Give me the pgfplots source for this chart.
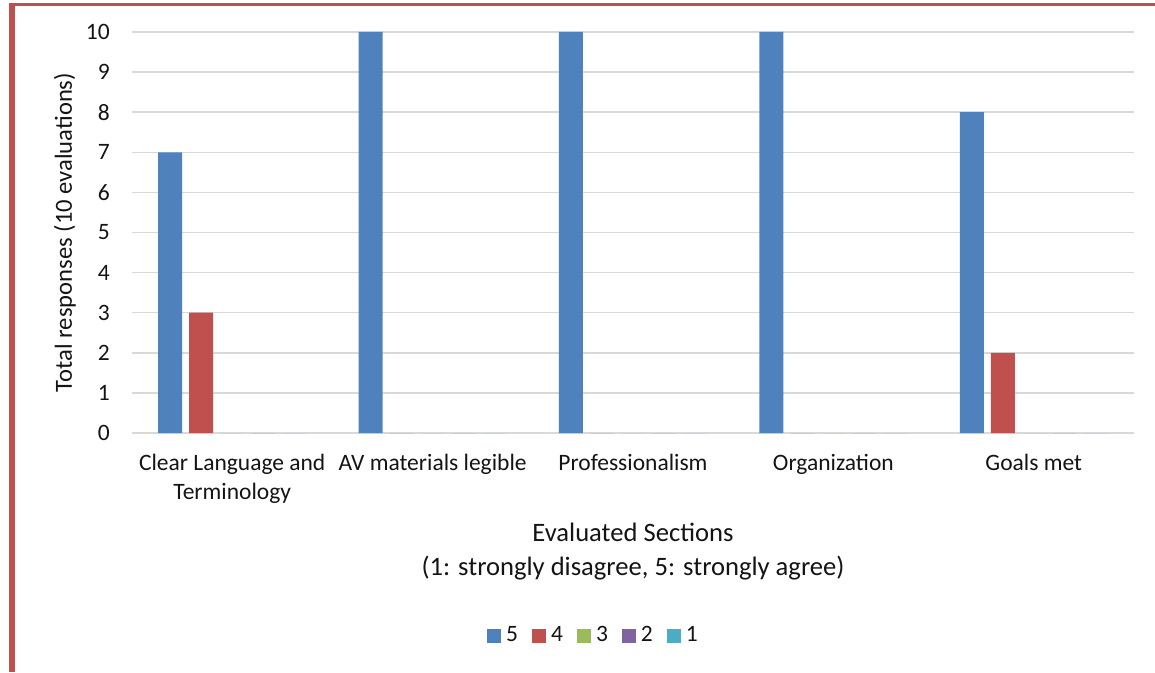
\documentclass[border=0pt]{standalone}
\usepackage{pgfplots}
\pgfplotsset{compat=1.18}
\usepackage{fontspec}
\setmainfont{Carlito}
\definecolor{c5}{HTML}{4F81BD}
\definecolor{c4}{HTML}{C0504D}
\definecolor{c3}{HTML}{9BBB59}
\definecolor{c2}{HTML}{8064A2}
\definecolor{c1}{HTML}{4BACC6}
\definecolor{gridc}{RGB}{217,217,217}
\definecolor{txt}{RGB}{20,20,20}
\newcommand{\bigf}{\fontsize{23.5}{29}\selectfont}
\begin{document}
\bigf
\begin{tikzpicture}
\path[use as bounding box] (-132pt,-239pt) rectangle (1023pt,433pt);
\begin{axis}[
  at={(0,0)}, anchor=south west,
  scale only axis, width=1002pt, height=401pt,
  ybar=7pt, bar width=24pt,
  xmin=-0.5, xmax=4.5, ymin=0, ymax=10,
  xtick=data,
  xticklabels={{Clear Language and\\Terminology},{AV materials legible},{Professionalism},{Organization},{Goals met}},
  ytick={0,1,...,10},
  /pgf/number format/assume math mode=true,
  major tick length=0pt,
  axis x line=bottom, axis y line=left,
  y axis line style={draw=none},
  x axis line style={draw=gridc, line width=1.5pt, -},
  ymajorgrids, grid style={draw=gridc, line width=1.5pt},
  font=\bigf,
  tick label style={text=txt, font=\bigf},
  yticklabel style={inner sep=0pt, xshift=-22pt},
  xticklabel style={align=center, inner sep=0pt, anchor=north, yshift=-21pt},
  ylabel={Total responses (10 evaluations)},
  ylabel style={at={(axis description cs:-0.0669,0.5)}, anchor=center, inner sep=0pt, text=txt, font=\fontsize{24.6}{30}\selectfont},
  xlabel={Evaluated Sections\\(1: strongly disagree, 5: strongly agree)},
  xlabel style={at={(axis description cs:0.5,0)}, anchor=north, yshift=-90pt, align=center, inner sep=0pt, text=txt, font=\fontsize{26.6}{34}\selectfont},
  legend columns=5,
  legend style={draw=none, at={(axis description cs:0.3543,-0.506)}, anchor=west, inner sep=0pt,
    font=\bigf,
    nodes={inner sep=0pt, text=txt, font=\bigf},
    /tikz/every odd column/.append style={column sep=5pt},
    /tikz/every even column/.append style={column sep=14pt}},
  legend image code/.code={\path[#1, draw=none] (0pt,-7pt) rectangle (14pt,7pt);},
]
\addplot[fill=c5, draw=none] coordinates {(0,7) (1,10) (2,10) (3,10) (4,8)};
\addplot[fill=c4, draw=none] coordinates {(0,3) (1,0) (2,0) (3,0) (4,2)};
\addplot[fill=c3, draw=none] coordinates {(0,0) (1,0) (2,0) (3,0) (4,0)};
\addplot[fill=c2, draw=none] coordinates {(0,0) (1,0) (2,0) (3,0) (4,0)};
\addplot[fill=c1, draw=none] coordinates {(0,0) (1,0) (2,0) (3,0) (4,0)};
\legend{5,4,3,2,1}
\end{axis}
\draw[c4, line width=3pt] (-123pt,428.5pt) -- (1023pt,428.5pt);
\draw[c4, line width=6pt] (-120pt,430pt) -- (-120pt,-239pt);
\end{tikzpicture}
\end{document}
